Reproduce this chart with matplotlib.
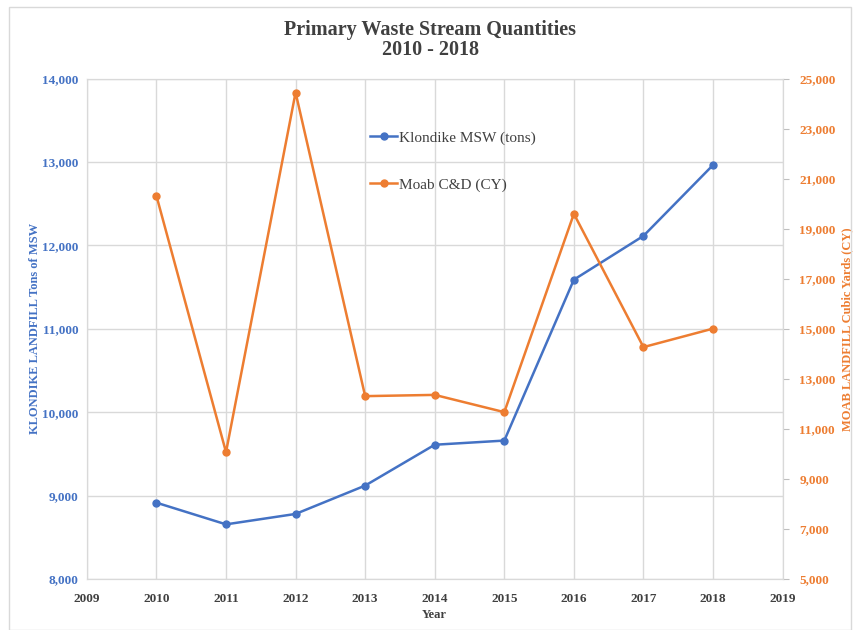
import matplotlib.pyplot as plt
from matplotlib.patches import Rectangle
from matplotlib.ticker import FuncFormatter, MultipleLocator, FixedLocator
import numpy as np

years = [2010, 2011, 2012, 2013, 2014, 2015, 2016, 2017, 2018]
klondike_msw = [8915, 8655, 8780, 9120, 9610, 9660, 11590, 12115, 12965]
moab_cd = [20320, 10070, 24450, 12310, 12360, 11670, 19600, 14270, 15010]

blue = "#4472C4"
orange = "#ED7D31"
dark = "#404040"

plt.rcParams["font.family"] = ["Liberation Serif", "DejaVu Serif"]

fig = plt.figure(figsize=(8.6, 6.3), dpi=100)
ax = fig.add_axes([0.101, 0.081, 0.809, 0.794])
ax2 = ax.twinx()

# chart border
fig.patches.append(Rectangle((9 / 860, 0), 842 / 860, 623 / 630,
                             transform=fig.transFigure, fill=False,
                             edgecolor="#d9d9d9", lw=1))

ax.plot(years, klondike_msw, color=blue, lw=1.8, marker="o", ms=5,
        label="Klondike MSW (tons)", zorder=3)
ax2.plot(years, moab_cd, color=orange, lw=1.8, marker="o", ms=5,
         label="Moab C&D (CY)", zorder=3)

comma = FuncFormatter(lambda v, p: f"{int(v):,}")

ax.set_xlim(2009, 2019)
ax.xaxis.set_major_locator(MultipleLocator(1))
ax.set_ylim(8000, 14000)
ax.yaxis.set_major_locator(MultipleLocator(1000))
ax.yaxis.set_major_formatter(comma)
ax2.set_ylim(5000, 25000)
ax2.yaxis.set_major_locator(FixedLocator(np.arange(5000, 25001, 2000)))
ax2.yaxis.set_major_formatter(comma)

ax.grid(True, color="#d9d9d9", lw=1)
ax.set_axisbelow(True)

for a in (ax, ax2):
    for s in a.spines.values():
        s.set_color("#d9d9d9")

ax.tick_params(axis="x", length=0, pad=10, labelsize=9.5, labelcolor=dark)
ax.tick_params(axis="y", length=0, pad=6, labelsize=9.5, labelcolor=blue)
ax2.tick_params(axis="y", length=4, color="#bfbfbf", pad=8,
                labelsize=9.5, labelcolor=orange)
for lab in ax.get_xticklabels() + ax.get_yticklabels() + ax2.get_yticklabels():
    lab.set_fontweight("bold")

ax.set_xlabel("Year", fontsize=9, fontweight="bold", color=dark, labelpad=3)
ax.set_ylabel("KLONDIKE LANDFILL Tons of MSW", fontsize=9,
              fontweight="bold", color=blue, labelpad=1)
ax2.set_ylabel("MOAB LANDFILL Cubic Yards (CY)", fontsize=9,
               fontweight="bold", color=orange, labelpad=4)

fig.text(0.5, 0.937, "Primary Waste Stream Quantities\n2010 - 2018",
         ha="center", va="center", fontsize=14.5, fontweight="bold",
         color=dark, linespacing=1.0)

h1, l1 = ax.get_legend_handles_labels()
h2, l2 = ax2.get_legend_handles_labels()
leg = ax2.legend(h1 + h2, l1 + l2, loc="upper left",
                 bbox_to_anchor=(0.387, 0.923), frameon=False, fontsize=11,
                 labelspacing=2.15, handlelength=1.8, handletextpad=0.1,
                 labelcolor=dark)

fig.savefig("out.png", dpi=100)
